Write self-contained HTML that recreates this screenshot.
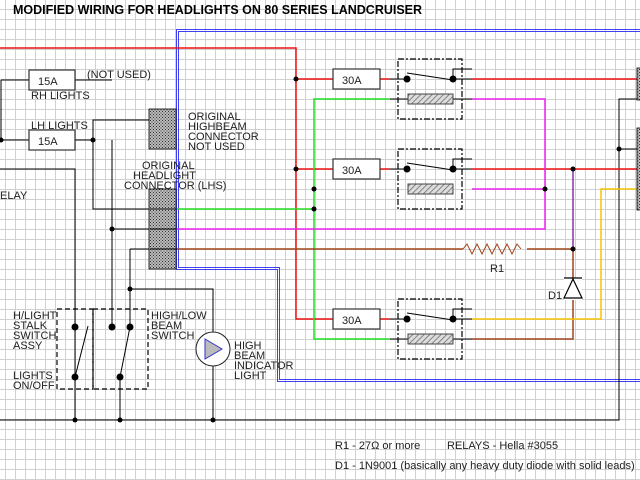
<!DOCTYPE html>
<html><head><style>
html,body{margin:0;padding:0;background:#fff;}
svg{display:block;}
text{font-family:"Liberation Sans",sans-serif;font-size:11px;fill:#222;}
</style></head><body>
<svg width="640" height="480" viewBox="0 0 640 480" xmlns="http://www.w3.org/2000/svg">
<defs>
<pattern id="g" x="5" y="9" width="10" height="10" patternUnits="userSpaceOnUse">
<path d="M0 0.5H10M0.5 0V10" stroke="#d0d0d0" stroke-width="1" fill="none"/>
</pattern>
<pattern id="h" width="3" height="3" patternUnits="userSpaceOnUse">
<rect width="3" height="3" fill="#bbb"/><rect width="1" height="1" fill="#333"/><rect x="1.5" y="1.5" width="1" height="1" fill="#333"/>
</pattern>
<pattern id="d" width="4" height="4" patternUnits="userSpaceOnUse" patternTransform="rotate(45)">
<rect width="4" height="4" fill="#ddd"/><path d="M0 0V4" stroke="#666" stroke-width="1.5"/>
</pattern>
</defs>
<rect width="640" height="480" fill="#fff"/>
<rect width="640" height="480" fill="url(#g)"/>
<text x="13" y="14" style="font-weight:bold;font-size:12.5px;fill:#000">MODIFIED WIRING FOR HEADLIGHTS ON 80 SERIES LANDCRUISER</text>

<!-- blue double line -->
<g fill="none" stroke="#4040f0" stroke-width="1" shape-rendering="crispEdges">
<path d="M640 29.5H176.5V269.5H277.5V381.5H640"/>
<path d="M640 31.5H178.5V267.5H279.5V379.5H640"/>
</g>

<!-- black wires -->
<g fill="none" stroke="#000" stroke-width="1">
<path d="M1 80H29M75 80H112M1 80V140M1 140H29M75 140H93"/>
<path d="M93 140V120H150M93 140V209H150M112 229V140M112 229H150"/>
<path d="M0 169H75V420M112 229V327M130 249H177M130 249V327M130 289H213V420"/>
<path d="M120 377V420M0 420H619V99H640M619 149H640"/>
<path d="M88 326L75 377M130 327L120 377"/>
<path d="M390 79H407M453 79V69H472M453 79H472M390 99H408M453 99H472M390 169H407M453 169V159H472M453 169H472M390 319H407M453 319V309H472M453 319H472M390 339H408M453 339H472"/>
<path d="M407 73L453 80M407 163L453 170M407 313L453 320"/>
</g>
<!-- red -->
<g fill="none" stroke="#ee1111" stroke-width="1.5">
<path d="M0 48H296V319H333M296 79H333M380 79H390M472 79H640M296 169H333M380 169H390M472 169H640M380 319H390"/>
</g>
<!-- green -->
<path d="M390 99H314V339H390M177 209H314" fill="none" stroke="#22dd22" stroke-width="1.5"/>
<!-- magenta -->
<path d="M472 99H545V229H177M472 189H545" fill="none" stroke="#ee22ee" stroke-width="1.5"/>
<!-- brown -->
<path d="M177 249H463M527 249H573V339H472" fill="none" stroke="#a0451a" stroke-width="1.5"/>
<path d="M463 249l4 -5l5 10l5 -10l5 10l5 -10l5 10l5 -10l5 10l5 -10l5 10l5 -10l4 5" fill="none" stroke="#a0451a" stroke-width="1"/>
<!-- purple -->
<path d="M573 169V249" stroke="#8833aa" stroke-width="1.5"/>
<!-- yellow -->
<path d="M472 319H601V189H640" fill="none" stroke="#f5c400" stroke-width="1.5"/>

<!-- diode -->
<rect x="564" y="278" width="18" height="22" fill="#fff"/>
<path d="M564 278H582M573 279L564 298H582Z" fill="#fff" stroke="#000" stroke-width="1.2"/>
<text x="548" y="299">D1</text>
<text x="490" y="272">R1</text>

<!-- fuses -->
<g fill="#fff" stroke="#333" stroke-width="1.2">
<rect x="29" y="70" width="46" height="20"/><rect x="29" y="130" width="46" height="20"/>
<rect x="333" y="69" width="47" height="20"/><rect x="333" y="159" width="47" height="20"/><rect x="333" y="309" width="47" height="20"/>
</g>
<text x="38" y="85">15A</text><text x="38" y="145">15A</text>
<text x="342" y="84">30A</text><text x="342" y="174">30A</text><text x="342" y="324">30A</text>

<!-- relays -->
<g fill="none" stroke="#000" stroke-width="1.2" stroke-dasharray="6,2,2,2">
<rect x="398" y="59" width="64" height="60"/><rect x="398" y="149" width="64" height="60"/><rect x="398" y="299" width="64" height="60"/>
</g>
<g fill="url(#d)" stroke="#444">
<path d="M408 94H453V104H408Z"/><path d="M408 184H453V194H408Z"/><path d="M408 334H453V344H408Z"/>
</g>
<!-- connectors -->
<g fill="url(#h)" stroke="#000" stroke-width="0.8">
<rect x="149" y="109" width="27" height="40"/><rect x="149" y="189" width="27" height="80"/>
<rect x="637" y="68" width="4" height="32"/><rect x="637" y="128" width="4" height="82"/>
</g>
<g stroke="#000"><path d="M150 209H176M150 229H176M150 249H176"/></g>

<!-- switch boxes -->
<g fill="none" stroke="#000" stroke-width="1.2" stroke-dasharray="5,3">
<rect x="57" y="309" width="36" height="80"/><rect x="93" y="309" width="55" height="80"/>
</g>
<!-- lamp -->
<circle cx="213" cy="349" r="17" fill="#fff" stroke="#222"/>
<path d="M205 339L222 349L205 359Z" fill="#bbb" stroke="#3333cc"/>

<!-- dots -->
<g fill="#000">
<circle cx="1" cy="140" r="2.5"/><circle cx="93" cy="140" r="2.5"/><circle cx="112" cy="229" r="2.5"/>
<circle cx="296" cy="79" r="2.5"/><circle cx="296" cy="169" r="2.5"/>
<circle cx="314" cy="189" r="2.5"/><circle cx="314" cy="209" r="2.5"/><circle cx="545" cy="189" r="2.5"/>
<circle cx="573" cy="169" r="2.5"/><circle cx="573" cy="249" r="2.5"/><circle cx="619" cy="149" r="2.5"/>
<circle cx="407" cy="79" r="3.5"/><circle cx="453" cy="79" r="3.5"/>
<circle cx="407" cy="169" r="3.5"/><circle cx="453" cy="169" r="3.5"/>
<circle cx="407" cy="319" r="3.5"/><circle cx="453" cy="319" r="3.5"/>
<circle cx="130" cy="289" r="2.5"/>
<circle cx="75" cy="327" r="3.5"/><circle cx="112" cy="327" r="3.5"/><circle cx="130" cy="327" r="3.5"/>
<circle cx="75" cy="377" r="3.5"/><circle cx="120" cy="377" r="3.5"/>
<circle cx="75" cy="420" r="2.5"/><circle cx="120" cy="420" r="2.5"/><circle cx="213" cy="420" r="2.5"/>
</g>

<!-- labels -->
<text x="87" y="78">(NOT USED)</text>
<text x="31" y="99">RH LIGHTS</text>
<text x="31" y="129">LH LIGHTS</text>
<text x="188" y="120">ORIGINAL</text><text x="188" y="130">HIGHBEAM</text><text x="188" y="140">CONNECTOR</text><text x="188" y="150">NOT USED</text>
<text x="142" y="169">ORIGINAL</text><text x="133" y="179">HEADLIGHT</text><text x="124" y="189">CONNECTOR (LHS)</text>
<text x="0" y="199">ELAY</text>
<text x="13" y="319">H/LIGHT</text><text x="13" y="329">STALK</text><text x="13" y="339">SWITCH</text><text x="13" y="349">ASSY</text>
<text x="13" y="379">LIGHTS</text><text x="13" y="389">ON/OFF</text>
<text x="151" y="319">HIGH/LOW</text><text x="151" y="329">BEAM</text><text x="151" y="339">SWITCH</text>
<text x="234" y="349">HIGH</text><text x="234" y="359">BEAM</text><text x="234" y="369">INDICATOR</text><text x="234" y="379">LIGHT</text>
<text x="335" y="449">R1 - 27Ω or more</text>
<text x="447" y="449">RELAYS - Hella #3055</text>
<text x="335" y="469">D1 - 1N9001 (basically any heavy duty diode with solid leads)</text>
</svg>
</body></html>
